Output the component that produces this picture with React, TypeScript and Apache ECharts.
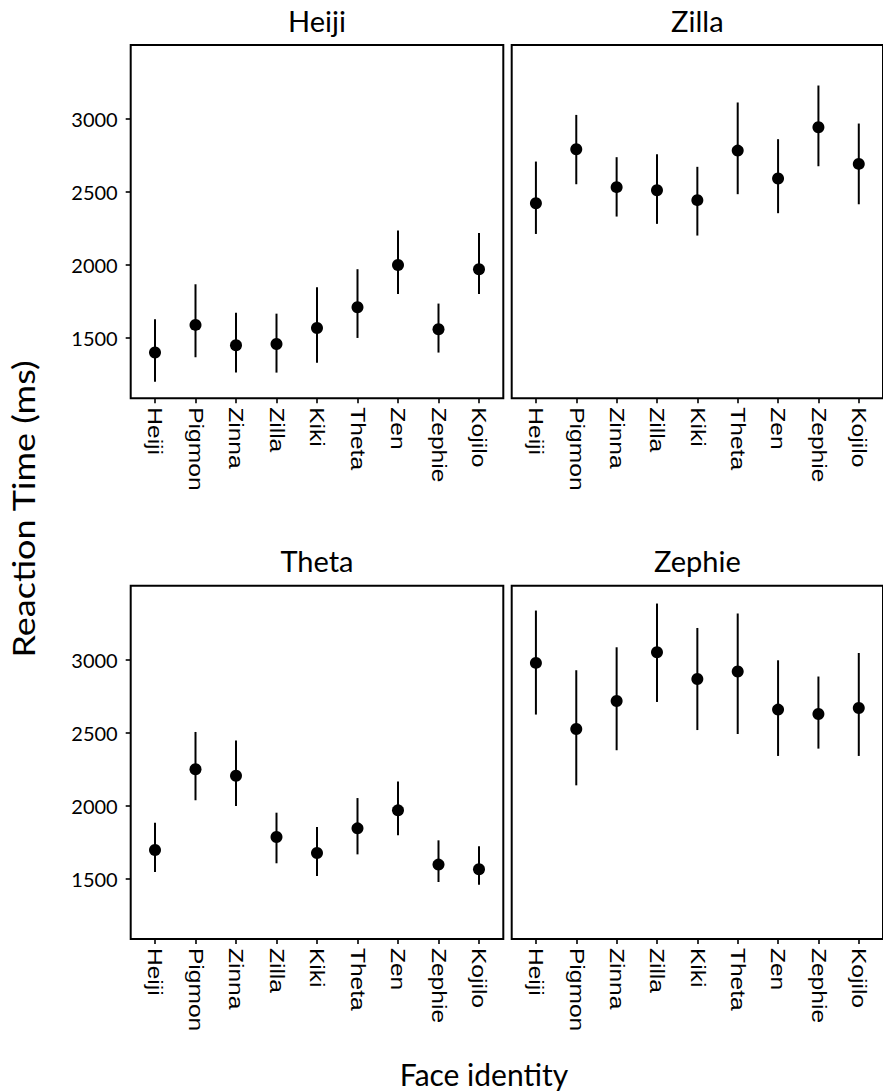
import React, { useEffect, useRef } from "react";
import * as echarts from "echarts";

const faces = ["Heiji", "Pigmon", "Zinna", "Zilla", "Kiki", "Theta", "Zen", "Zephie", "Kojilo"];
const panelTitles = ["Heiji", "Zilla", "Theta", "Zephie"];
const yTicks = [1500, 2000, 2500, 3000];
const xTicks = [0, 1, 2, 3, 4, 5, 6, 7, 8];

const heijiMean = [1402, 1591, 1452, 1461, 1570, 1712, 2001, 1561, 1972];
const heijiLow = [1203, 1370, 1265, 1265, 1333, 1502, 1803, 1402, 1803];
const heijiHigh = [1630, 1869, 1675, 1668, 1849, 1972, 2236, 1737, 2220];

const zillaMean = [2423, 2792, 2533, 2512, 2444, 2783, 2592, 2943, 2692];
const zillaLow = [2213, 2553, 2332, 2282, 2202, 2485, 2355, 2676, 2416];
const zillaHigh = [2708, 3027, 2738, 2758, 2672, 3112, 2861, 3228, 2968];

const thetaMean = [1698, 2250, 2206, 1787, 1677, 1846, 1969, 1598, 1566];
const thetaLow = [1547, 2038, 1999, 1607, 1520, 1668, 1798, 1479, 1461];
const thetaHigh = [1885, 2505, 2446, 1953, 1855, 2053, 2166, 1764, 1723];

const zephieMean = [2977, 2525, 2717, 3050, 2867, 2918, 2658, 2628, 2669];
const zephieLow = [2624, 2140, 2380, 2710, 2518, 2491, 2341, 2391, 2341];
const zephieHigh = [3335, 2927, 3084, 3383, 3216, 3315, 2995, 2884, 3045];

const means = [heijiMean, zillaMean, thetaMean, zephieMean];
const lows = [heijiLow, zillaLow, thetaLow, zephieLow];
const highs = [heijiHigh, zillaHigh, thetaHigh, zephieHigh];

const Y_MIN = 1090;
const Y_MAX = 3505;
const X_MIN = -0.6;
const X_MAX = 8.6;

const gridPos = [
  { left: 130.7, top: 45 },
  { left: 511.7, top: 45 },
  { left: 130.7, top: 585.7 },
  { left: 511.7, top: 585.7 },
];
const GW = 372.6;
const GH = 353.2;

export default function App() {
  const ref = useRef<HTMLDivElement>(null);
  useEffect(() => {
    if (!ref.current) return;
    const chart = echarts.init(ref.current, null, { renderer: "svg" });
    const tickStyle = { color: "#000", width: 1.6 };
    const option: any = {
      animation: false,
      backgroundColor: "#fff",
      grid: gridPos.map((g) => ({
        left: g.left,
        top: g.top,
        width: GW,
        height: GH,
        show: true,
        borderColor: "#000",
        borderWidth: 2,
        backgroundColor: "transparent",
      })),
      xAxis: gridPos.map((_, k) => ({
        gridIndex: k,
        type: "value",
        min: X_MIN,
        max: X_MAX,
        position: "bottom",
        axisLine: { show: false, onZero: false },
        splitLine: { show: false },
        axisTick: { show: true, customValues: xTicks, length: 5, lineStyle: tickStyle },
        axisLabel: { show: false },
      })),
      yAxis: gridPos.map((_, k) => ({
        gridIndex: k,
        type: "value",
        min: Y_MIN,
        max: Y_MAX,
        position: "left",
        axisLine: { show: false, onZero: false },
        splitLine: { show: false },
        axisTick: { show: k % 2 === 0, customValues: yTicks, length: 5, lineStyle: tickStyle },
        axisLabel: {
          show: k % 2 === 0,
          customValues: yTicks,
          formatter: (v: number) => String(v),
          fontFamily: "Lato",
          fontSize: 20,
          color: "#000",
          margin: 13,
        },
      })),
      series: [] as any[],
    };
    gridPos.forEach((_, k) => {
      option.series.push({
        type: "custom",
        xAxisIndex: k,
        yAxisIndex: k,
        silent: true,
        z: 2,
        encode: { x: 0, y: [1, 2] },
        data: faces.map((_f, i) => [i, lows[k][i], highs[k][i]]),
        renderItem: (params: any, api: any) => {
          const x = api.value(0);
          const p1 = api.coord([x, api.value(1)]);
          const p2 = api.coord([x, api.value(2)]);
          return {
            type: "line",
            shape: { x1: p1[0], y1: p1[1], x2: p2[0], y2: p2[1] },
            style: { stroke: "#000", lineWidth: 2 },
          };
        },
      });
      option.series.push({
        type: "scatter",
        xAxisIndex: k,
        yAxisIndex: k,
        silent: true,
        z: 3,
        symbol: "circle",
        symbolSize: 12,
        itemStyle: { color: "#000", opacity: 1 },
        data: faces.map((_f, i) => [i, means[k][i]]),
      });
    });
    chart.setOption(option);

    const graphics: any[] = [];
    gridPos.forEach((g, k) => {
      const topLeft = chart.convertToPixel({ gridIndex: k }, [X_MIN, Y_MAX]) as number[];
      const botRight = chart.convertToPixel({ gridIndex: k }, [X_MAX, Y_MIN]) as number[];
      const cx = (topLeft[0] + botRight[0]) / 2;
      graphics.push({
        type: "text",
        x: cx,
        y: topLeft[1] - 25,
        style: {
          text: panelTitles[k],
          fontFamily: "Lato",
          fontSize: 29,
          fill: "#000",
          textAlign: "center",
          textVerticalAlign: "middle",
          align: "center",
          verticalAlign: "middle",
        },
      });
      faces.forEach((f, i) => {
        const p = chart.convertToPixel({ gridIndex: k }, [i, Y_MIN]) as number[];
        graphics.push({
          type: "text",
          x: p[0],
          y: p[1] + 9,
          rotation: -Math.PI / 2,
          scaleX: 1.23,
          style: {
            text: f,
            fontFamily: "Liberation Sans",
            fontSize: 20,
            fill: "#000",
            textAlign: "left",
            textVerticalAlign: "middle",
            align: "left",
            verticalAlign: "middle",
          },
        });
      });
    });
    graphics.push({
      type: "text",
      x: 23,
      y: 509,
      rotation: Math.PI / 2,
      scaleX: 1.2,
      style: {
        text: "Reaction Time (ms)",
        fontFamily: "Lato",
        fontSize: 30,
        fill: "#000",
        textAlign: "center",
        textVerticalAlign: "middle",
        align: "center",
        verticalAlign: "middle",
      },
    });
    graphics.push({
      type: "text",
      x: 484,
      y: 1074,
      style: {
        text: "Face identity",
        fontFamily: "Lato",
        fontSize: 30,
        fill: "#000",
        textAlign: "center",
        textVerticalAlign: "middle",
        align: "center",
        verticalAlign: "middle",
      },
    });
    chart.setOption({ graphic: graphics });

    return () => chart.dispose();
  }, []);
  return (
    <div
      ref={ref}
      style={{ position: "absolute", left: 0, top: 0, width: 883, height: 1092 }}
    />
  );
}
